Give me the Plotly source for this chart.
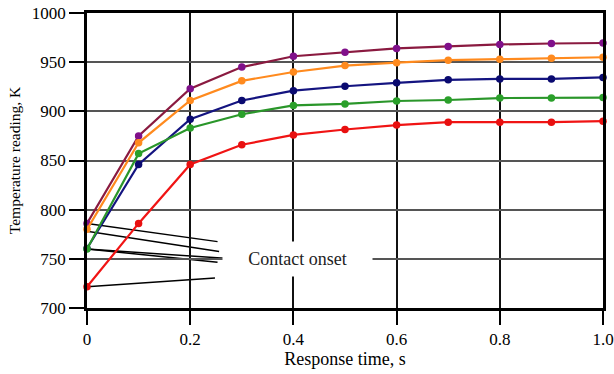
import plotly.graph_objects as go

time_s = [0, 0.1, 0.2, 0.3, 0.4, 0.5, 0.6, 0.7, 0.8, 0.9, 1.0]
purple_K = [786, 875, 923, 945, 956, 960, 964, 966, 968, 969, 969.5]
orange_K = [780, 868, 911, 931, 940, 946.5, 949.5, 952, 953, 954, 955]
blue_K = [760.5, 846, 892, 911, 921, 925.5, 929, 932, 933, 933, 934.5]
green_K = [760, 857, 883, 897, 906, 907.5, 910.5, 911.5, 913.5, 913.5, 914]
red_K = [721.5, 786, 846, 866, 876, 881.5, 886, 889, 889, 889, 890]

# leader lines for "Contact onset": start (x, y) -> end (x, y)
lead_x0 = [0, 0, 0, 0, 0]
lead_y0 = [786, 778, 760, 760, 721.5]
lead_x1 = [0.253, 0.256, 0.267, 0.253, 0.248]
lead_y1 = [767.5, 757.5, 750.5, 746.5, 730.5]

x_range = [0, 1.0]
y_range = [700, 1000]
x_minor_step = 0.04
y_minor_step = 10

W, H = 614, 374
M = dict(l=87, r=11, t=13, b=66)
plot_w = W - M["l"] - M["r"]
plot_h = H - M["t"] - M["b"]
minor_len_px = 9

series = [
    (purple_K, "#8a1a40", "#80108a"),
    (orange_K, "#ff8a1e", "#ff8a1e"),
    (blue_K, "#141480", "#0a0a70"),
    (green_K, "#2a962a", "#2aa02a"),
    (red_K, "#f01414", "#e81010"),
]

fig = go.Figure()

# minor ticks drawn as unclipped line markers just outside the axes
x_per_px = (x_range[1] - x_range[0]) / plot_w
y_per_px = (y_range[1] - y_range[0]) / plot_h
n_x = int(round((x_range[1] - x_range[0]) / x_minor_step))
xm = [x_range[0] + i * x_minor_step for i in range(1, n_x) if i % 5]
n_y = int(round((y_range[1] - y_range[0]) / y_minor_step))
ym = [y_range[0] + i * y_minor_step for i in range(1, n_y) if i % 5]
fig.add_trace(go.Scatter(
    x=xm, y=[y_range[0] - minor_len_px / 2 * y_per_px] * len(xm),
    mode="markers", cliponaxis=False, showlegend=False, hoverinfo="skip",
    marker=dict(symbol="line-ns", size=minor_len_px, color="black",
                line=dict(color="black", width=1.6))))
fig.add_trace(go.Scatter(
    x=[x_range[0] - minor_len_px / 2 * x_per_px] * len(ym), y=ym,
    mode="markers", cliponaxis=False, showlegend=False, hoverinfo="skip",
    marker=dict(symbol="line-ew", size=minor_len_px, color="black",
                line=dict(color="black", width=1.6))))

for vals, lc, mc in series:
    fig.add_trace(go.Scatter(x=time_s, y=vals, mode="lines+markers",
                             line=dict(color=lc, width=2.2),
                             marker=dict(color=mc, size=7.5),
                             showlegend=False, cliponaxis=False))

for x0, y0, x1, y1 in zip(lead_x0, lead_y0, lead_x1, lead_y1):
    fig.add_shape(type="line", x0=x0, y0=y0, x1=x1, y1=y1, xref="x", yref="y",
                  line=dict(color="black", width=1.5), layer="below")

fig.add_annotation(x=0.408, y=750, xref="x", yref="y", text="Contact onset",
                   showarrow=False, xanchor="center", yanchor="middle",
                   width=139, height=24, borderpad=5, align="center",
                   bgcolor="white",
                   font=dict(family="Liberation Serif", size=18, color="#222"))

tick_font = dict(family="Liberation Serif", size=17, color="black")
fig.update_layout(
    width=W, height=H,
    margin=dict(**M, autoexpand=False),
    paper_bgcolor="white", plot_bgcolor="white",
    font=tick_font,
    xaxis=dict(range=x_range, tickmode="linear", tick0=0, dtick=0.2,
               tickformat=".1f", labelalias={"0.0": "0"},
               ticks="outside", ticklen=14, tickwidth=1.6, tickcolor="black",
               showgrid=True, gridcolor="#111", gridwidth=1.5,
               showline=True, linecolor="black", linewidth=2.5, mirror=True,
               zeroline=False, automargin=False,
               title=dict(text="Response time, s", standoff=4,
                          font=dict(family="Liberation Serif", size=18)),
               tickfont=tick_font),
    yaxis=dict(range=y_range, tickmode="linear", tick0=700, dtick=50,
               ticks="outside", ticklen=15, tickwidth=1.6, tickcolor="black",
               showgrid=True, gridcolor="#555", gridwidth=1.5,
               showline=True, linecolor="black", linewidth=2.5, mirror=True,
               zeroline=False, automargin=False,
               title=dict(text="Temperature reading, K", standoff=8,
                          font=dict(family="Liberation Serif", size=15.5)),
               tickfont=tick_font),
)

fig.write_html("out.html")
